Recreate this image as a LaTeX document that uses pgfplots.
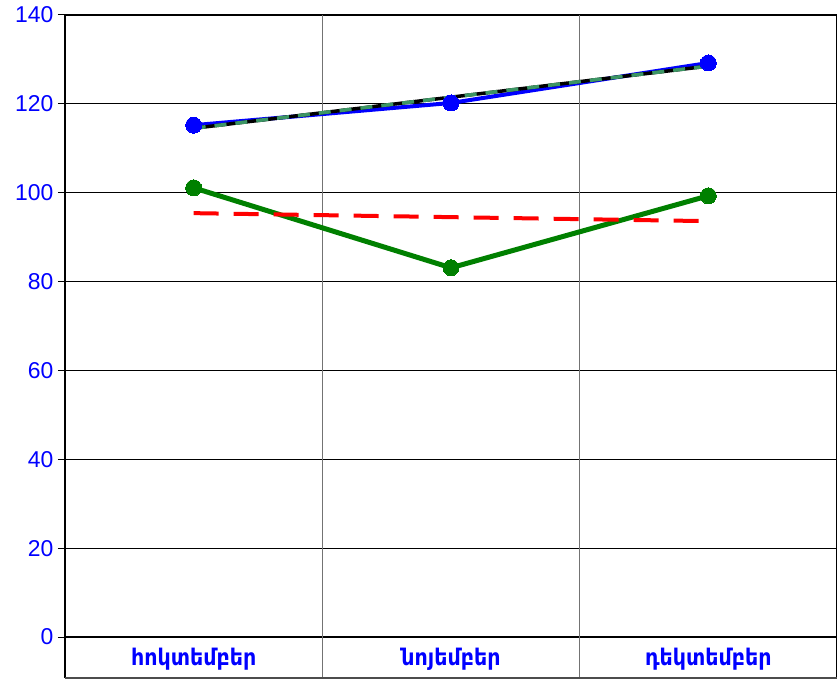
\documentclass[border=0pt]{standalone}
\usepackage{pgfplots}
\pgfplotsset{compat=1.18}
\usepackage{fontspec}
\setmainfont{Liberation Sans}
\newfontfamily\armfont[FakeStretch=0.9]{DejaVu Sans}
\definecolor{trendgreen}{RGB}{60,150,100}
\begin{document}
\begin{tikzpicture}
\begin{axis}[name=ax, scale only axis, width=772bp, height=622bp,
  xmin=0, xmax=3, ymin=0, ymax=140,
  ytick={0,20,...,140}, xtick=\empty,
  ymajorgrids, major grid style={black, line width=0.8bp},
  axis line style={black, line width=1.2bp},
  tick style={black, line width=1bp},
  tick pos=left, tick align=outside, major tick length=7bp,
  yticklabel style={font=\fontsize{23}{23}\selectfont, text=blue, xshift=-1bp},
  /pgf/number format/assume math mode=true,
  clip=false]
% vertical separators
\draw[black!55, line width=1.5bp] (axis cs:1,140) -- ([yshift=-41bp]axis cs:1,0);
\draw[black!55, line width=1.5bp] (axis cs:2,140) -- ([yshift=-41bp]axis cs:2,0);
\draw[black, line width=1.2bp] (axis cs:0,0) -- ([yshift=-41bp]axis cs:0,0);
\draw[black, line width=1.2bp] (axis cs:3,0) -- ([yshift=-41bp]axis cs:3,0);
\draw[black!70, line width=1.2bp] ([yshift=-41bp]axis cs:0,0) -- ([yshift=-41bp]axis cs:3,0);
% category labels
\node[text=blue, font=\armfont\bfseries\fontsize{23}{23}\selectfont] at ([yshift=-22bp]axis cs:0.5,0) {հոկտեմբեր};
\node[text=blue, font=\armfont\bfseries\fontsize{23}{23}\selectfont] at ([yshift=-22bp]axis cs:1.5,0) {նոյեմբեր};
\node[text=blue, font=\armfont\bfseries\fontsize{23}{23}\selectfont] at ([yshift=-22bp]axis cs:2.5,0) {դեկտեմբեր};
% series
\addplot[blue, line width=4bp, mark=*, mark size=8bp, mark options={fill=blue, draw=blue, line width=0pt}]
  coordinates {(0.5,115.2) (1.5,120.2) (2.5,129.2)};
\addplot[black, line width=3.5bp]
  coordinates {(0.5,114.5) (2.5,128.5)};
\addplot[trendgreen, line width=3.5bp, dash pattern=on 12bp off 9bp]
  coordinates {(0.5,114.5) (2.5,128.5)};
\addplot[black!50!green, line width=5bp, mark=*, mark size=8bp, mark options={fill=black!50!green, draw=black!50!green, line width=0pt}]
  coordinates {(0.5,101.1) (1.5,83.1) (2.5,99.3)};
\addplot[red, line width=4bp, dash pattern=on 25bp off 15bp]
  coordinates {(0.5,95.4) (1.5,94.5) (2.5,93.6)};
\end{axis}
\pgfresetboundingbox
\path[use as bounding box] ([xshift=-65bp,yshift=-43bp]ax.south west) rectangle ([yshift=15bp]ax.north east);
\end{tikzpicture}
\end{document}
